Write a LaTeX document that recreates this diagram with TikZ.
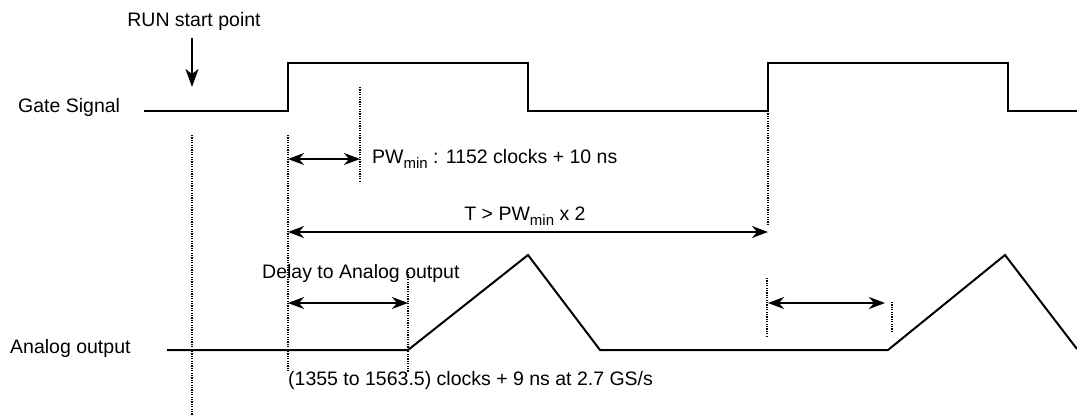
\documentclass[tikz,border=0pt]{standalone}
\usepackage{fontspec}
\setmainfont{Liberation Sans}
\usetikzlibrary{arrows.meta}
\newcommand{\subm}[1]{\raisebox{-0.5ex}{\fontsize{15}{16}\selectfont #1}}
\begin{document}
\begin{tikzpicture}[x=1pt,y=-1pt,
  lbl/.style={inner sep=0pt,font=\fontsize{19.5}{21}\selectfont},
  wave/.style={line width=2pt,line join=miter},
  guide/.style={line width=1.3pt,dash pattern=on 1.2pt off 1.2pt},
  dim/.style={line width=2pt,{Stealth[length=16pt,width=12pt,inset=5pt]}-{Stealth[length=16pt,width=12pt,inset=5pt]}},
  pointer/.style={line width=2pt,-{Stealth[length=18pt,width=13pt,inset=5pt]}}]
\useasboundingbox (0,0) rectangle (1077,415);
\fill[white] (0,0) rectangle (1077,415);
% labels
\node[lbl,anchor=base] (run) at (194,27) {RUN start point};
\node[lbl,anchor=base west] (gate) at (18,112) {Gate Signal};
\node[lbl,anchor=base west] (pw) at (372,163) {PW\subm{min} : 1152 clocks + 10 ns};
\node[lbl,anchor=base] (tlbl) at (525,220) {T > PW\subm{min} x 2};
\node[lbl,anchor=base west] (delay) at (262,278) {Delay to Analog output};
\node[lbl,anchor=base west] (analog) at (10,353) {Analog output};
\node[lbl,anchor=base west] (clk) at (288,385) {(1355 to 1563.5) clocks + 9 ns at 2.7 GS/s};
% gate waveform points
\coordinate (g0) at (144,111);
\coordinate (g1) at (288,111);
\coordinate (g2) at (288,63);
\coordinate (g3) at (528,63);
\coordinate (g4) at (528,111);
\coordinate (g5) at (768,111);
\coordinate (g6) at (768,63);
\coordinate (g7) at (1008,63);
\coordinate (g8) at (1008,111);
\coordinate (g9) at (1077,111);
\draw[wave] (g0)--(g1)--(g2)--(g3)--(g4)--(g5)--(g6)--(g7)--(g8)--(g9);
% analog waveform points
\coordinate (a0) at (167,350);
\coordinate (a1) at (408,350);
\coordinate (a2) at (528,255);
\coordinate (a3) at (600,350);
\coordinate (a4) at (888,350);
\coordinate (a5) at (1005,255);
\coordinate (a6) at (1077,349);
\draw[wave] (a0)--(a1)--(a2)--(a3)--(a4)--(a5)--(a6);
% run arrow
\coordinate (r0) at (192,38);
\coordinate (r1) at (192,87);
\draw[pointer] (r0)--(r1);
% guides
\coordinate (d1t) at (192,135); \coordinate (d1b) at (192,415);
\coordinate (d2t) at (288,135); \coordinate (d2b) at (288,372);
\coordinate (d3t) at (360,87);  \coordinate (d3b) at (360,181);
\coordinate (d4b) at (768,224);
\coordinate (d5t) at (408,272); \coordinate (d5b) at (408,372);
\coordinate (d6t) at (767,278); \coordinate (d6b) at (767,337);
\coordinate (d7t) at (892,302); \coordinate (d7b) at (892,333);
\draw[guide] (d1t)--(d1b);
\draw[guide] (d2t)--(d2b);
\draw[guide] (d3t)--(d3b);
\draw[guide] (g5)--(d4b);
\draw[guide] (d5t)--(d5b);
\draw[guide] (d6t)--(d6b);
\draw[guide] (d7t)--(d7b);
% dimension arrows
\coordinate (p0) at (288,159); \coordinate (p1) at (360,159);
\coordinate (t0) at (288,232); \coordinate (t1) at (768,232);
\coordinate (q0) at (288,303); \coordinate (q1) at (408,303);
\coordinate (s0) at (768,303); \coordinate (s1) at (885,303);
\draw[dim] (p0)--(p1);
\draw[dim] (t0)--(t1);
\draw[dim] (q0)--(q1);
\draw[dim] (s0)--(s1);
\end{tikzpicture}
\end{document}
